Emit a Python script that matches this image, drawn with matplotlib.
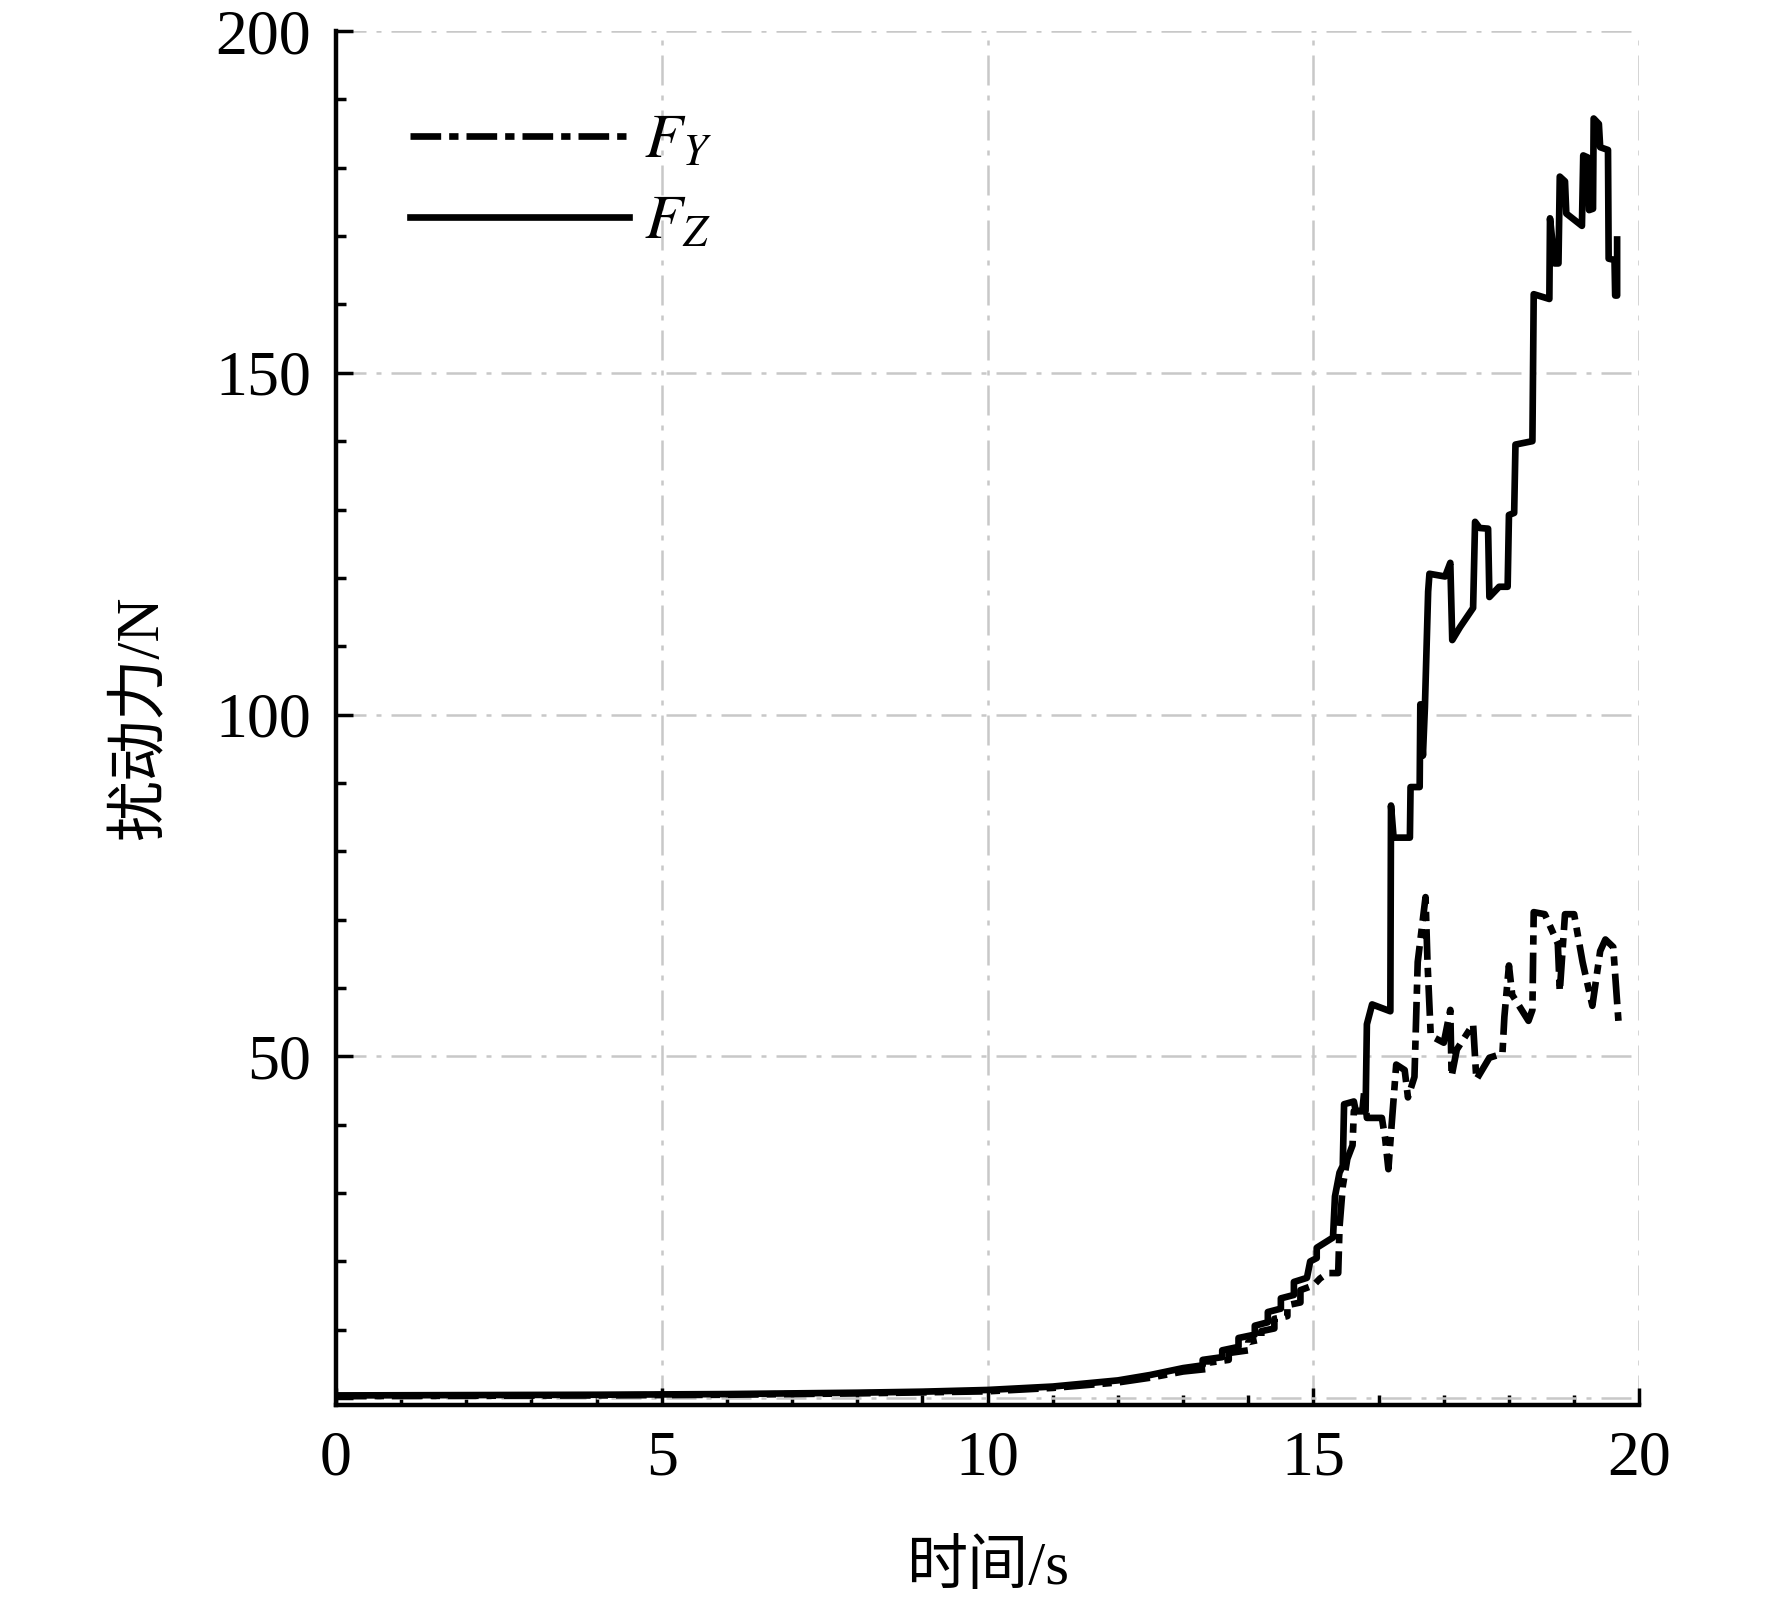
import numpy as np
import matplotlib
matplotlib.use('Agg')
import matplotlib.pyplot as plt
from matplotlib.ticker import MultipleLocator

# 数据
t_fz = [0, 2, 4, 6, 8, 9, 10, 11, 12, 12.5, 13, 13.3, 13.3, 13.6, 13.6, 13.85, 13.85,
        14.1, 14.1, 14.3, 14.3, 14.5, 14.5, 14.7, 14.7, 14.9, 14.95,
        15.05, 15.05, 15.25, 15.3, 15.33, 15.4, 15.45, 15.47, 15.62, 15.65, 15.8,
        15.82, 15.9, 16.18, 16.19, 16.23, 16.48, 16.49, 16.63, 16.64, 16.68, 16.71,
        16.76, 16.78, 17.02, 17.1, 17.13, 17.25, 17.45, 17.48, 17.55, 17.68, 17.7,
        17.85, 17.98, 18.0, 18.08, 18.1, 18.36, 18.38, 18.62, 18.63, 18.68, 18.7,
        18.76, 18.78, 18.86, 18.88, 19.12, 19.14, 19.21, 19.23, 19.29, 19.3, 19.38,
        19.4, 19.52, 19.53, 19.62, 19.63, 19.66, 19.66]
fz = [0.4, 0.45, 0.5, 0.6, 0.8, 0.95, 1.2, 1.7, 2.6, 3.4, 4.4, 4.8, 5.6, 6.0, 7.0, 7.5, 8.8,
      9.3, 10.6, 11.1, 12.6, 13.1, 14.6, 15.1, 17.0, 17.6, 20.0,
      20.5, 22, 23.2, 23.5, 29.5, 33, 34, 43, 43.4, 42, 42,
      54.7, 57.6, 56.6, 86.7, 82, 82, 89.4, 89.4, 101.5, 94, 101,
      118, 120.6, 120.2, 122.2, 110.9, 112.8, 115.6, 128.2, 127.3, 127.2, 117.2,
      118.7, 118.7, 129.2, 129.5, 139.5, 140, 161.5, 160.8, 172.6, 168, 166,
      166, 178.7, 178, 173.3, 171.5, 181.8, 181.5, 173.8, 174, 187.2, 186.4,
      183, 182.6, 166.7, 166.5, 161.3, 161.3, 169.5]

t_fy = [0, 2, 4, 6, 8, 9, 10, 11, 12, 12.5, 13, 13.4, 13.4, 13.7, 13.7, 14.0, 14.0,
        14.2, 14.2, 14.4, 14.4, 14.6, 14.6, 14.8, 14.8, 15.0,
        15.1, 15.22, 15.38, 15.4, 15.45, 15.52, 15.6, 15.62, 15.75, 15.78, 15.82,
        16.05, 16.1, 16.15, 16.2, 16.27, 16.4, 16.45, 16.55, 16.6, 16.72, 16.75,
        16.8, 17.0, 17.1, 17.12, 17.2, 17.45, 17.5, 17.7, 17.9, 17.93, 18.0, 18.05,
        18.3, 18.36, 18.38, 18.55, 18.75, 18.78, 18.86, 19.0, 19.13, 19.28, 19.4,
        19.48, 19.6, 19.68]
fy = [0.3, 0.35, 0.4, 0.5, 0.7, 0.85, 1.0, 1.5, 2.3, 3.0, 3.9, 4.3, 5.2, 5.6, 6.6, 7.0, 8.2,
      8.6, 9.8, 10.2, 11.6, 12.0, 13.6, 14.0, 15.8, 16.5,
      17.5, 18.3, 18.3, 25, 31, 35, 37, 42, 42, 45, 41,
      41, 38, 33.5, 40, 48.8, 48, 44, 47, 63.8, 73.3, 63.8,
      53, 52, 56.8, 47.1, 51, 54.7, 46.6, 49.8, 50.4, 55.8, 63.3, 59,
      55.2, 56.8, 71.1, 70.8, 66.5, 59.5, 70.8, 70.8, 63.8, 57.4, 65.4,
      67.1, 66, 55.2]

x_ticks = [0, 5, 10, 15, 20]
y_ticks = [0, 50, 100, 150, 200]
y_ticklabels = ['', '50', '100', '150', '200']

plt.rcParams['font.family'] = ['Liberation Serif', 'Noto Sans CJK SC']
plt.rcParams['mathtext.fontset'] = 'stix'

fig = plt.figure(figsize=(17.72, 16.07), dpi=100)
ax = fig.add_axes([0.1896, 0.1257, 0.7355, 0.855])

ax.plot(t_fy, fy, color='black', linewidth=4.8, dashes=(4.6, 1.2, 1.4, 1.2),
        label='$F_Y$')
ax.plot(t_fz, fz, color='black', linewidth=4.8, label='$F_Z$')

ax.set_xlim(0, 20)
ax.set_ylim(-1, 200)
ax.set_xticks(x_ticks)
ax.set_yticks(y_ticks)
ax.set_yticklabels(y_ticklabels)
ax.xaxis.set_minor_locator(MultipleLocator(1))
ax.yaxis.set_minor_locator(MultipleLocator(10))

ax.grid(True, which='major', color='#c8c8c8', linewidth=1.8,
        dashes=(12, 4, 2, 4))

for side in ['top', 'right']:
    ax.spines[side].set_visible(False)
for side in ['left', 'bottom']:
    ax.spines[side].set_linewidth(3.2)
ax.spines['left'].set_bounds(-1, 200)

ax.tick_params(which='major', direction='in', length=12, width=2.5,
               labelsize=46, pad=18)
ax.tick_params(which='minor', direction='in', length=7, width=2.5)

ax.set_xlabel('时间/s', fontsize=44, labelpad=38)
ax.set_ylabel('扰动力/N', fontsize=44, labelpad=32)

ax.legend(loc='upper left', bbox_to_anchor=(0.0568, 0.94), frameon=False,
          fontsize=45, handlelength=3.5, handletextpad=0.25, labelspacing=0.37,
          borderpad=0, borderaxespad=0)

fig.savefig('out.png', dpi=100)
